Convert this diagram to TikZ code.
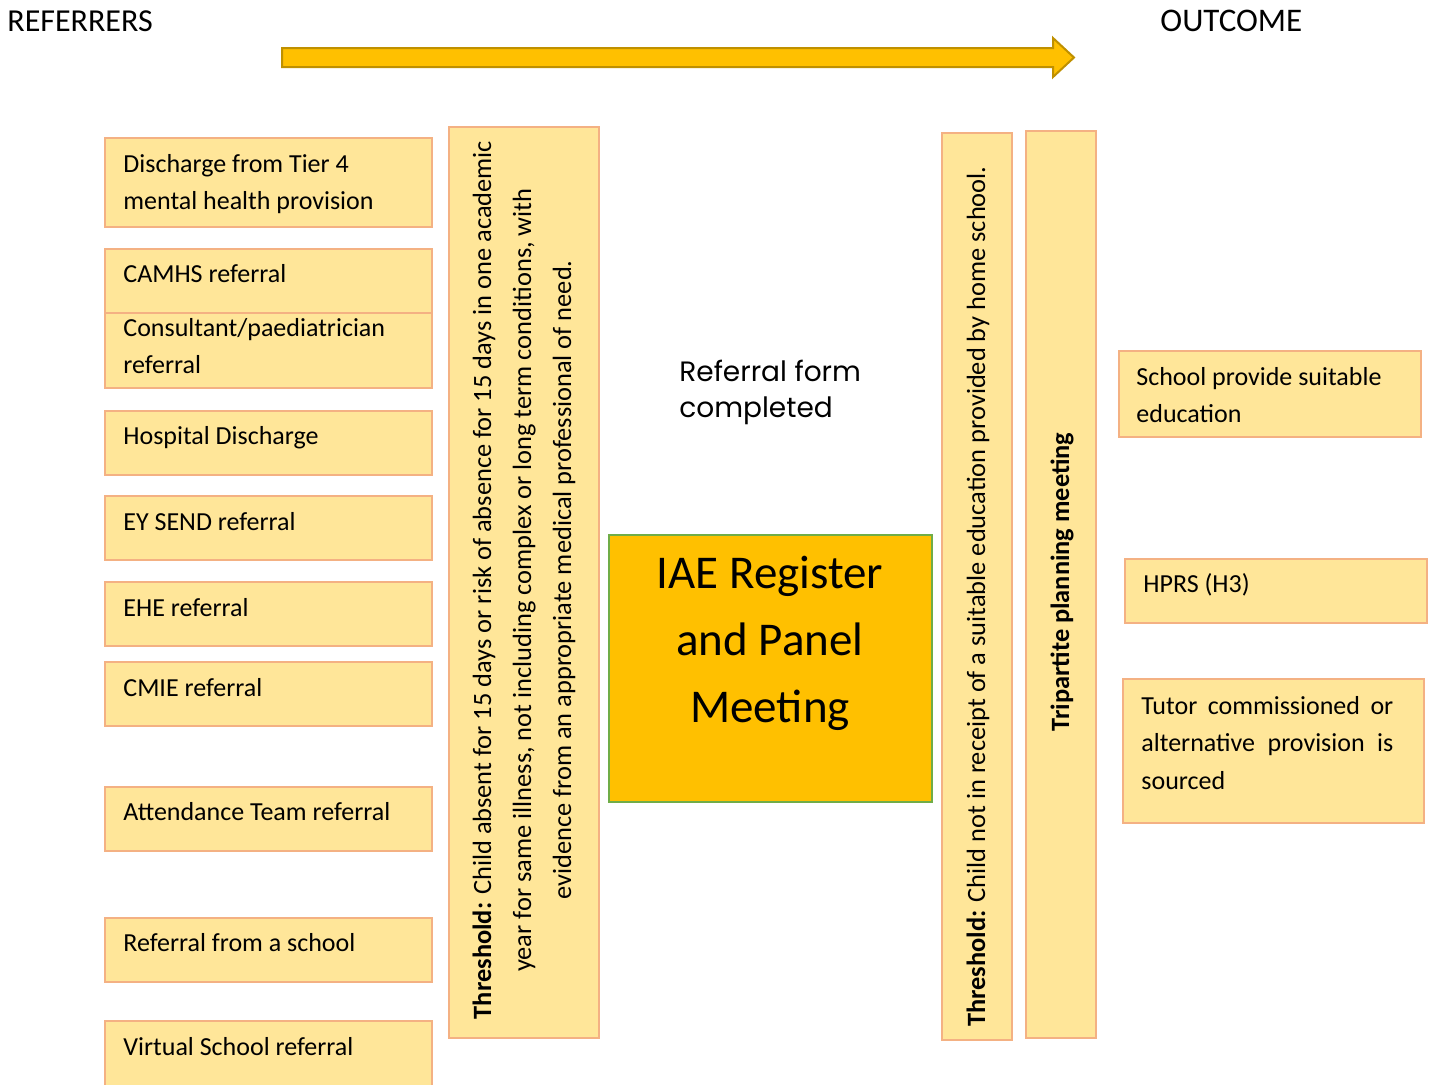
\documentclass[tikz,border=0pt]{standalone}
\usepackage{fontspec}
\setmainfont{Carlito}
\newfontfamily\gothic{Poppins}
\usetikzlibrary{fit}
\definecolor{boxfill}{HTML}{FFE699}
\definecolor{boxline}{HTML}{F4B183}
\definecolor{gold}{HTML}{FFC000}
\definecolor{golddark}{HTML}{BF9000}
\definecolor{iaeline}{HTML}{70AD47}
\begin{document}
\begin{tikzpicture}[x=0.5pt,y=-0.5pt,
  refbox/.style={draw=boxline, fill=boxfill, line width=1pt, inner sep=0pt},
  iaebox/.style={draw=iaeline, fill=gold, line width=1pt, inner sep=0pt},
  txt/.style={font=\fontsize{13}{18.5}\selectfont, align=left, inner sep=0pt, anchor=west},
  head/.style={font=\fontsize{16}{19}\selectfont, inner sep=0pt, anchor=west},
  vtxt/.style={font=\fontsize{13.2}{20}\selectfont, inner sep=0pt, rotate=90}]
\useasboundingbox (0,0) rectangle (1432,1084);

% headings
\node[head] (hl) at (7,21) {REFERRERS};
\node[head, font=\fontsize{16.5}{19}\selectfont] (hr) at (1160,21) {OUTCOME};

% big arrow
\draw[fill=gold, draw=golddark, line width=1pt, line join=miter]
  (282,48) -- (1053,48) -- (1053,38) -- (1074,57.5) -- (1053,77) -- (1053,67) -- (282,67) -- cycle;

% left referrer boxes
\node[refbox, fit={(105,138) (432,227)}] (b1) {};
\node[refbox, fit={(105,249) (432,313)}] (b2) {};
\node[refbox, fit={(105,313) (432,388)}] (b3) {};
\node[refbox, fit={(105,411) (432,475)}] (b4) {};
\node[refbox, fit={(105,496) (432,560)}] (b5) {};
\node[refbox, fit={(105,582) (432,646)}] (b6) {};
\node[refbox, fit={(105,662) (432,726)}] (b7) {};
\node[refbox, fit={(105,787) (432,851)}] (b8) {};
\node[refbox, fit={(105,918) (432,982)}] (b9) {};
\node[refbox, fit={(105,1021) (432,1095)}] (b10) {};

\node[txt] (t1) at (123,184.5) {Discharge from Tier 4\\mental health provision};
\node[txt] (t2) at (123,274) {CAMHS referral};
\node[txt] (t3) at (123,346.5) {Consultant/paediatrician\\referral};
\node[txt] (t4) at (123,438) {Hospital Discharge};
\node[txt] (t5) at (123,522) {EY SEND referral};
\node[txt] (t6) at (123,608) {EHE referral};
\node[txt] (t7) at (123,688) {CMIE referral};
\node[txt] (t8) at (123,812) {Attendance Team referral};
\node[txt] (t9) at (123,943) {Referral from a school};
\node[txt] (t10) at (123,1047) {Virtual School referral};

% left threshold
\node[refbox, fit={(449,127) (599,1038)}] (v1) {};
\node[vtxt, align=center] (v1t) at (524,580) {\textbf{Threshold:} Child absent for 15 days or risk of absence for 15 days in one academic\\year for same illness, not including complex or long term conditions, with\\evidence from an appropriate medical professional of need.};

% referral form completed
\node[inner sep=0pt, anchor=west, align=left, font=\gothic\fontsize{14}{18}\selectfont] (rf) at (679,392) {Referral form\\completed};

% IAE box
\node[iaebox, fit={(609,535) (932,802)}] (iae) {};
\node[inner sep=0pt, align=center, font=\fontsize{23.5}{33.5}\selectfont] (iaet) at (770,643) {IAE Register\\and Panel\\Meeting};

% right threshold + tripartite
\node[refbox, fit={(942,133) (1012,1040)}] (v2) {};
\node[vtxt, anchor=west] (v2t) at (978,1027) {\textbf{Threshold:} Child not in receipt of a suitable education provided by home school.};
\node[refbox, fit={(1026,131) (1096,1038)}] (v3) {};
\node[vtxt] (v3t) at (1062,582) {\textbf{Tripartite planning meeting}};

% outcome boxes
\node[refbox, fit={(1119,351) (1421,437)}] (r1) {};
\node[txt] (r1t) at (1136,395) {School provide suitable\\education};
\node[refbox, fit={(1125,559) (1427,623)}] (r2) {};
\node[txt] (r2t) at (1143,585) {HPRS (H3)};
\node[refbox, fit={(1123,679) (1424,823)}] (r3) {};
\node[txt, align=justify, text width=126pt, font=\fontsize{13}{18.75}\selectfont] (r3t) at (1141,743) {\hyphenpenalty=10000 Tutor commissioned or alternative provision is sourced};
\end{tikzpicture}
\end{document}
